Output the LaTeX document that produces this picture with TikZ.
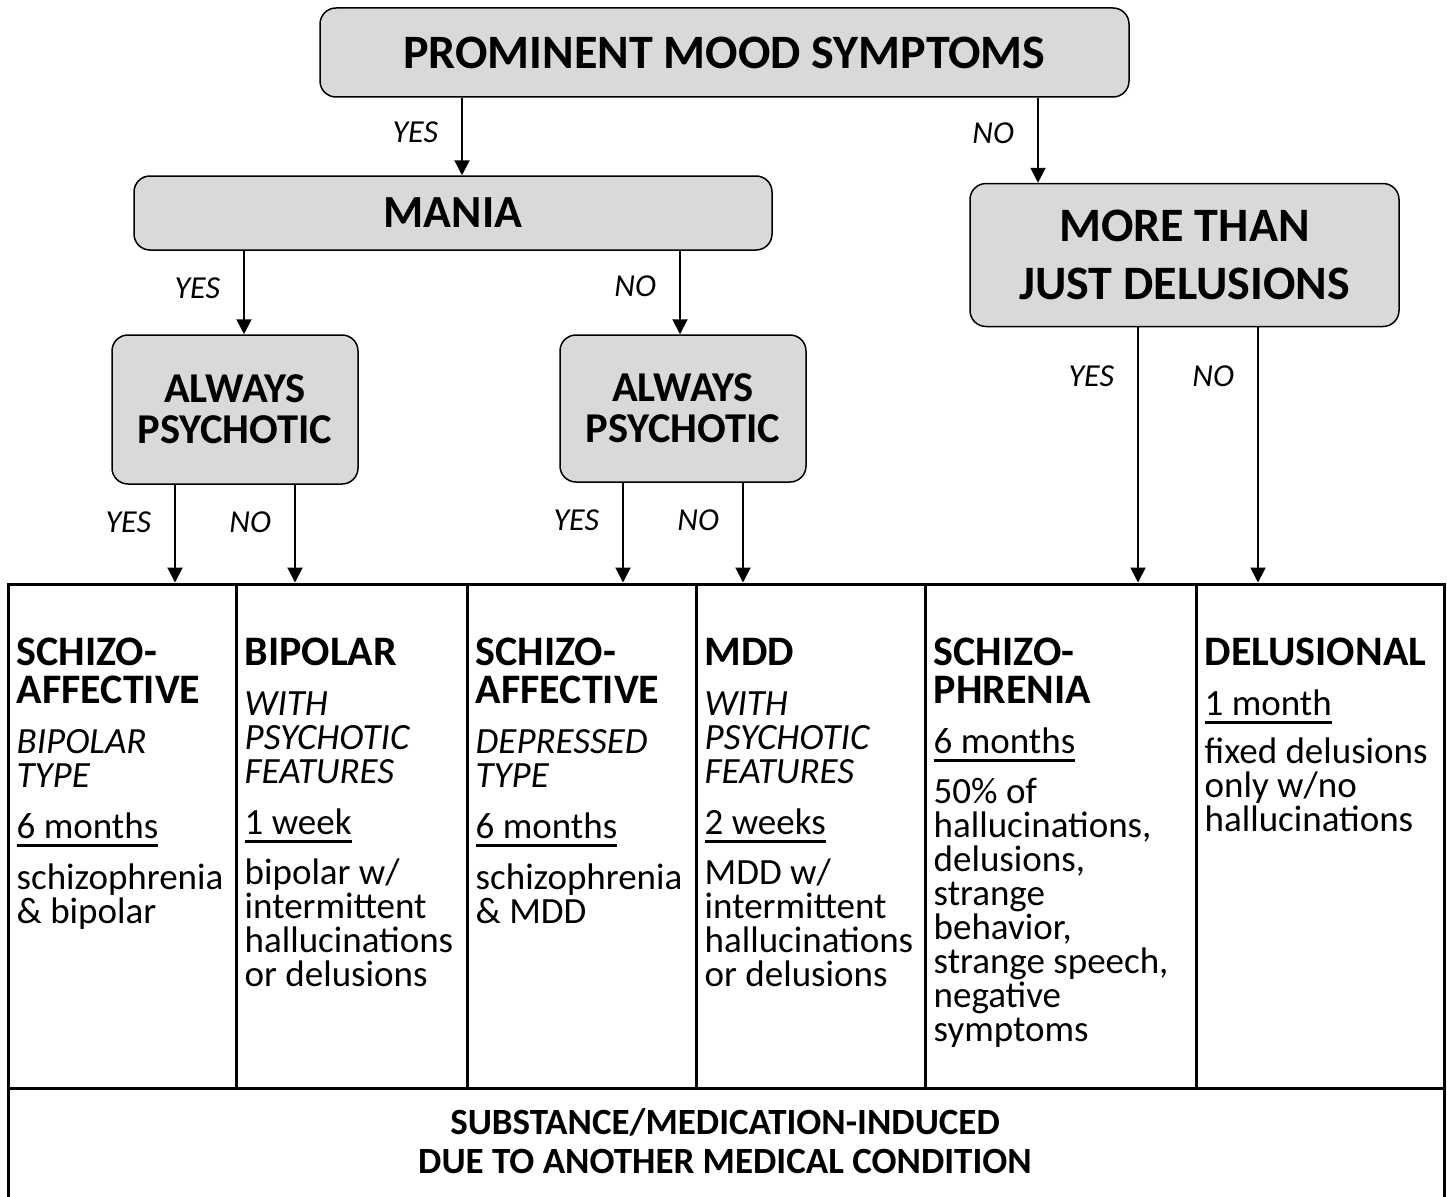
\documentclass[tikz,border=0pt]{standalone}
\usepackage{fontspec}
\setmainfont{Carlito}
\usetikzlibrary{arrows.meta,positioning}
\definecolor{boxgray}{HTML}{D9D9D9}
\newsavebox{\ulbox}
\newcommand{\ulbar}[1]{\leavevmode\sbox{\ulbox}{#1}\rlap{\rule[-8pt]{\wd\ulbox}{2.5pt}}\usebox{\ulbox}}
\newcommand{\hd}[1]{{\bfseries\fontsize{42}{34}\selectfont #1}}
\tikzset{qbox/.style={rectangle,rounded corners=16pt,draw,line width=1.5pt,fill=boxgray,align=flush center,inner sep=0pt},
         ans/.style={font=\itshape\fontsize{32}{32}\selectfont,inner sep=0pt},
         cell/.style={rectangle,draw,line width=3pt,inner sep=0pt},
         coltext/.style={anchor=base west,text width=260pt,align=flush left,inner sep=0pt,font=\fontsize{37}{34}\selectfont}}

\begin{document}
\begin{tikzpicture}[>={Triangle[length=15pt 0,width=15pt 0]},x=1pt,y=-1pt]
        \useasboundingbox (0,0) rectangle (1447,1196);

        % question boxes
        \node[qbox,minimum width=809pt,minimum height=89pt,font=\bfseries\fontsize{48}{56}\selectfont] (top)at (724.5,52.5) {PROMINENT MOOD SYMPTOMS};
        \node[qbox,minimum width=638pt,minimum height=74pt,font=\bfseries\fontsize{46}{56}\selectfont] (mania)at (453,213) {MANIA};
        \node[qbox,minimum width=429pt,minimum height=143pt,font=\bfseries\fontsize{48}{58}\selectfont] (more)at (1184.5,255) {MORE THAN\\JUST DELUSIONS};
        \node[qbox,minimum width=246pt,minimum height=149pt,font=\bfseries\fontsize{42.5}{41}\selectfont] (psy1)at (235,409.5) {ALWAYS\\PSYCHOTIC};
        \node[qbox,minimum width=246pt,minimum height=147pt,font=\bfseries\fontsize{42.5}{41}\selectfont] (psy2)at (683,408.5) {ALWAYS\\PSYCHOTIC};

        % table
        \node[cell,minimum width=228pt,minimum height=504pt] (c1)at (122,836) {};
        \node[cell,minimum width=231pt,minimum height=504pt] (c2)at (351.5,836) {};
        \node[cell,minimum width=229pt,minimum height=504pt] (c3)at (581.5,836) {};
        \node[cell,minimum width=229pt,minimum height=504pt] (c4)at (810.5,836) {};
        \node[cell,minimum width=271pt,minimum height=504pt] (c5)at (1060.5,836) {};
        \node[cell,minimum width=248pt,minimum height=504pt] (c6)at (1320,836) {};
        \node[cell,minimum width=1436pt,minimum height=114pt] (sub)at (726,1145) {};
        \node[align=flush center,inner sep=0pt,font=\bfseries\fontsize{37}{39}\selectfont] (subtext)at (725,1141) {SUBSTANCE/MEDICATION-INDUCED\\DUE TO ANOTHER MEDICAL CONDITION};

        \node[coltext] (t1)at ([xshift=10pt,yshift=-83pt]c1.north west) {\hd{SCHIZO-}\\[4pt]\hd{AFFECTIVE}\\[16pt]{\itshape BIPOLAR}\\{\itshape TYPE}\\[17pt]\ulbar{6 months}\\[17pt]schizophrenia\\\& bipolar};
        \node[coltext] (t2)at ([xshift=10pt,yshift=-83pt]c2.north west) {\hd{BIPOLAR}\\[16pt]{\itshape WITH}\\{\itshape PSYCHOTIC}\\{\itshape FEATURES}\\[17pt]\ulbar{1 week}\\[16pt]bipolar w/\\intermittent\\hallucinations\\or delusions};
        \node[coltext] (t3)at ([xshift=10pt,yshift=-83pt]c3.north west) {\hd{SCHIZO-}\\[4pt]\hd{AFFECTIVE}\\[16pt]{\itshape DEPRESSED}\\{\itshape TYPE}\\[17pt]\ulbar{6 months}\\[17pt]schizophrenia\\\& MDD};
        \node[coltext] (t4)at ([xshift=10pt,yshift=-83pt]c4.north west) {\hd{MDD}\\[16pt]{\itshape WITH}\\{\itshape PSYCHOTIC}\\{\itshape FEATURES}\\[17pt]\ulbar{2 weeks}\\[16pt]MDD w/\\intermittent\\hallucinations\\or delusions};
        \node[coltext] (t5)at ([xshift=10pt,yshift=-83pt]c5.north west) {\hd{SCHIZO-}\\[4pt]\hd{PHRENIA}\\[16pt]\ulbar{6 months}\\[16pt]50\% of\\hallucinations,\\delusions,\\strange\\behavior,\\strange speech,\\negative\\symptoms};
        \node[coltext] (t6)at ([xshift=10pt,yshift=-83pt]c6.north west) {\hd{DELUSIONAL}\\[16pt]\ulbar{1 month}\\[14pt]fixed delusions\\only w/no\\hallucinations};

        % yes / no arrows
        \draw [->,line width=2pt] ([xshift=-262.5pt]top.south) to [] node[ans,pos=0.45,left=23pt]{YES} ([xshift=-262.5pt]top.south |- mania.north);
        \draw [->,line width=2pt] ([xshift=313.5pt]top.south) to [] node[ans,pos=0.42,left=23pt]{NO} ([xshift=313.5pt]top.south |- more.north);
        \draw [->,line width=2pt] ([xshift=-209pt]mania.south) to [] node[ans,pos=0.45,left=23pt]{YES} ([xshift=-209pt]mania.south |- psy1.north);
        \draw [->,line width=2pt] ([xshift=227pt]mania.south) to [] node[ans,pos=0.42,left=23pt]{NO} ([xshift=227pt]mania.south |- psy2.north);
        \draw [->,line width=2pt] ([xshift=-60pt]psy1.south) to [] node[ans,pos=0.38,left=23pt]{YES} ([xshift=-60pt]psy1.south |- c1.north);
        \draw [->,line width=2pt] ([xshift=60pt]psy1.south) to [] node[ans,pos=0.38,left=23pt]{NO} ([xshift=60pt]psy1.south |- c2.north);
        \draw [->,line width=2pt] ([xshift=-60pt]psy2.south) to [] node[ans,pos=0.38,left=23pt]{YES} ([xshift=-60pt]psy2.south |- c3.north);
        \draw [->,line width=2pt] ([xshift=60pt]psy2.south) to [] node[ans,pos=0.38,left=23pt]{NO} ([xshift=60pt]psy2.south |- c4.north);
        \draw [->,line width=2pt] ([xshift=-46.5pt]more.south) to [] node[ans,pos=0.19,left=23pt]{YES} ([xshift=-46.5pt]more.south |- c5.north);
        \draw [->,line width=2pt] ([xshift=73.5pt]more.south) to [] node[ans,pos=0.19,left=23pt]{NO} ([xshift=73.5pt]more.south |- c6.north);
    \end{tikzpicture}
\end{document}
